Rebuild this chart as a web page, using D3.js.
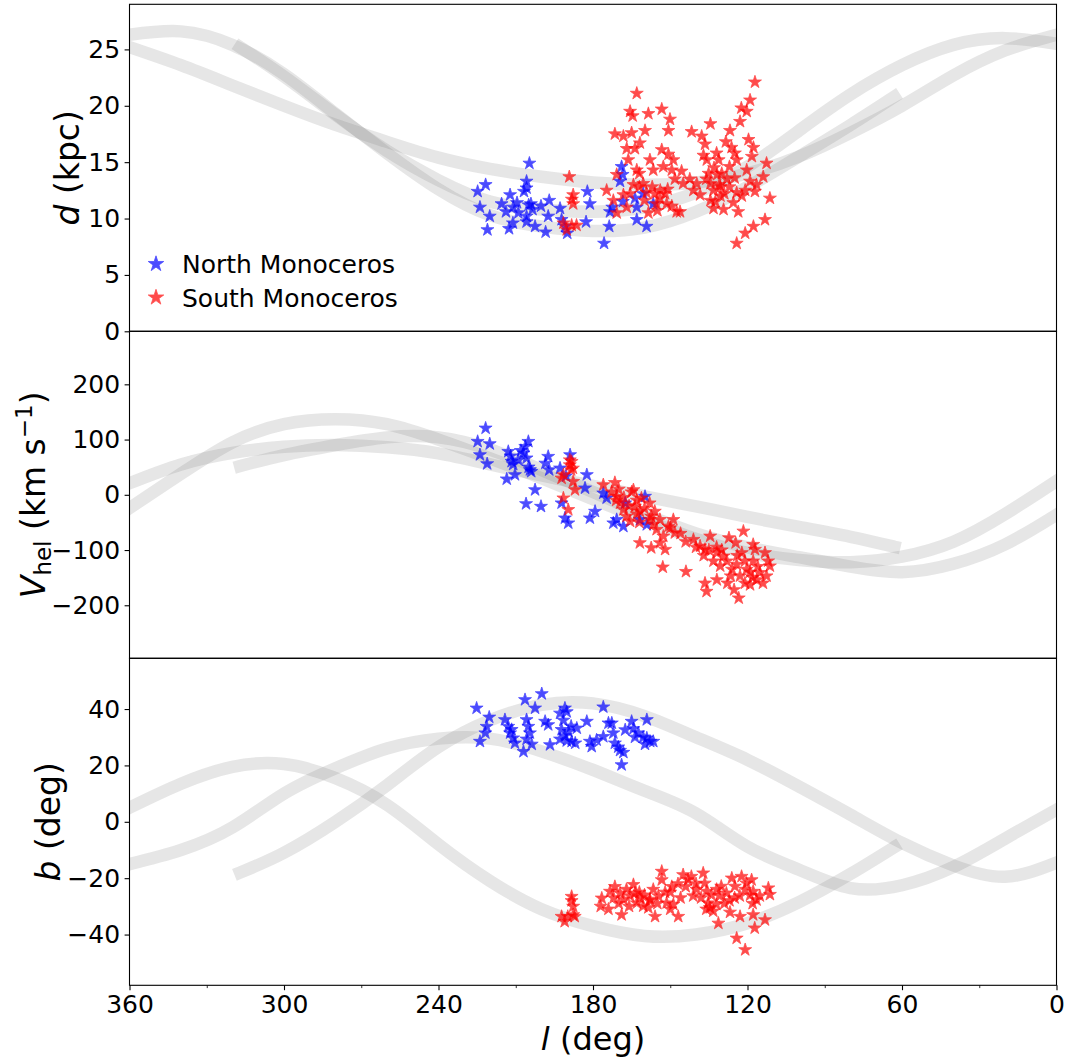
<!DOCTYPE html>
<html>
<head>
<meta charset="utf-8">
<script src="https://cdn.jsdelivr.net/npm/d3@7"></script>
<style>
  html, body { margin: 0; padding: 0; background: #fff; }
  svg { display: block; font-family: "DejaVu Sans", sans-serif; }
</style>
</head>
<body>
<svg id="chart" width="1067" height="1059"></svg>
<script>
// ---- Orbit track, split where l wraps from 0 back to 360 ----
const orbitL1 = [317, 300, 280, 260, 240, 220, 200, 180, 160, 140, 120, 100, 80, 60, 40, 20, 0];
const orbitD1 = [25.2, 22.6, 19.2, 16.0, 13.4, 11.5, 10.8, 10.6, 11.0, 12.3, 14.6, 17.8, 21.0, 23.6, 25.4, 26.0, 25.5];
const orbitV1 = [52, 72, 90, 104, 104, 82, 45, 5, -35, -70, -95, -113, -130, -140, -125, -90, -36];
const orbitB1 = [-18, -11, 0, 13, 26.5, 36, 41.5, 42, 37.5, 30, 22, 12.5, 2.5, -7.5, -15.5, -19.5, -14.5];

const orbitL2 = [360, 340, 320, 300, 280, 260, 240, 220, 200, 180, 160, 140, 120, 100, 80, 60, 40, 20, 0];
const orbitD2 = [25.2, 23.6, 21.8, 20.0, 18.3, 16.8, 15.4, 14.4, 13.7, 13.2, 13.0, 13.2, 14.0, 15.5, 17.6, 20.0, 22.7, 24.9, 26.3];
const orbitV2 = [-24, 38, 95, 128, 137, 128, 100, 66, 30, -8, -45, -80, -105, -118, -122, -112, -85, -35, 25];
const orbitB2 = [-15, -10, -2, 10, 19, 26, 29.5, 29.5, 25, 18.4, 11, 3, -8.8, -17, -23.5, -22.5, -16, -6, 4.3];

const orbitL3 = [360, 340, 320, 300, 280, 260, 240, 220, 200, 180, 160, 140, 120, 100, 80, 63];
const orbitD3 = [26.3, 26.6, 25.4, 22.8, 19.3, 15.8, 12.6, 10.3, 9.3, 8.9, 9.2, 10.6, 12.8, 15.5, 18.3, 20.8];
const orbitV3 = [21, 55, 76, 87, 90, 86, 75, 55, 35, 16, -3, -21, -40, -58, -76, -94];
const orbitB3 = [5, 13.5, 19.5, 20.5, 15.5, 6, -8, -21, -31, -37, -40.5, -40, -36, -28.5, -18.5, -9];

// ---- Stars: [l, value] pairs ----
const northD = [[224.8,12.4],[221.7,13.0],[223.9,11.0],[220.1,10.2],[221,9.0],[213.8,10.6],[212.6,9.1],[211.1,9.6],[212.2,12.1],[209.5,11.4],[211,11.0],[206.8,12.4],[205.8,13.3],[205.8,12.7],[204.7,14.9],[205,11.2],[205.8,10.2],[205.8,9.7],[204.1,11.3],[202.5,9.3],[200.2,11.1],[197,11.6],[197.4,10.2],[198.4,8.8],[192.8,10.9],[192.2,9.9],[190,8.7],[190.8,9.3],[182.2,12.4],[182.7,9.7],[181.2,11.3],[175.7,7.8],[173.7,9.3],[173.4,10.6],[169.5,13.3],[168.9,14.6],[168.5,13.9],[172.5,11.0],[163,9.9],[160.5,12.2],[159.2,9.3],[163.7,11.8],[156.6,11.3],[168.4,11.5],[163,11.0],[209,10.5],[203.5,10.8],[215.5,11.3]];
const southD = [[189.2,13.7],[187.7,12.1],[188.2,11.7],[187.7,11.3],[191.5,9.6],[188.3,9.4],[186.4,9.4],[190.2,9.0],[174.7,12.5],[172.1,11.6],[170.8,10.5],[168.2,12.1],[166.9,11.0],[165.6,12.2],[164.3,13.0],[170.8,13.9],[171.5,17.5],[168.2,17.3],[166.9,16.2],[166.3,15.2],[165,17.6],[165.6,19.5],[164.6,19.1],[163,21.1],[161.8,16.7],[163.7,16.2],[163,14.3],[162,14.0],[160.5,13.1],[159.2,12.3],[159.8,17.8],[158.5,19.3],[157.9,15.2],[156.6,14.3],[156,12.2],[155.3,11.3],[153.9,12.5],[153.3,16.1],[153.3,19.7],[152.7,14.6],[152,12.2],[150.7,17.8],[150.1,18.8],[150.7,15.7],[149.4,14.3],[148.8,15.2],[148.2,13.5],[151.4,11.3],[149.4,11.1],[147.5,10.6],[146.2,10.6],[145.6,14.2],[145,13.1],[142.4,13.5],[141.7,17.7],[141,12.5],[139.7,13.1],[138.4,12.1],[137.8,17.3],[136.5,16.6],[137.1,15.6],[134.4,18.4],[135.8,15.2],[135.1,14.0],[134.4,13.1],[133.2,12.5],[134.4,11.6],[132.5,11.5],[131.8,13.9],[131.2,15.2],[130.5,12.8],[133.2,10.9],[129.3,10.8],[128.4,16.8],[126.8,17.8],[126.2,16.3],[124.9,15.8],[124.2,15.2],[124.2,12.3],[125.5,11.4],[123.6,10.6],[122.4,19.8],[122.9,18.6],[120.3,19.5],[119,20.5],[119.6,17.0],[117.7,16.3],[118.3,15.5],[120.3,14.3],[119,13.3],[120.9,12.5],[122.2,12.0],[117.1,12.4],[117.1,22.1],[116.5,13.0],[113.9,13.7],[112.6,14.9],[111.3,11.8],[113.2,9.9],[117.7,9.3],[120.9,8.7],[124.2,7.8],[130.5,12.0],[155,10.7],[158.5,10.5],[133,14.5],[130,14.0],[128,13.5],[127,12.8],[129,12.2],[131,13.0],[136,13.5],[127,14.6],[132,15.8],[125,13.6],[157,12.8],[154,11.8],[151,12.6],[160,11.6],[162,12.8]];

const northV = [[221.7,120.6],[224.8,96.4],[220.1,92.2],[223.9,72.3],[221.1,56],[212.9,78.3],[211.6,60.2],[210.3,36.2],[213.5,28.4],[207,75.4],[206.3,87.3],[205.1,96.4],[205.8,66.4],[204.5,45.2],[202.5,9],[206,-16.3],[200.2,-21.1],[197.4,69.3],[198.5,57],[192.8,48.2],[188.9,72.3],[190.5,34],[192.2,-15],[190.9,-42.2],[189.6,-51.2],[182.4,36.2],[183.1,12.1],[179.2,-30.1],[181.2,-42.2],[176,3],[174.7,-6],[172.1,-51.2],[168.2,-57.3],[170.8,-45],[167.5,-15],[159.8,-3],[159.1,-54.2],[161.8,-45],[211,55],[209,63],[205,50],[204,42],[208,80],[212,70],[197,45]];
const southV = [[188.3,60.2],[189,54],[187.8,48],[191.5,36],[192.2,30],[187.7,24],[187,9],[191.5,-6],[189.6,-27],[188.5,45],[189,63],[176,18],[171.5,22],[172.8,5],[170.8,-3],[169.5,-15],[168.2,-27],[164.3,9],[167,-39],[165.6,-48],[163.7,-21],[161.8,-30],[161.2,-6],[158,-15],[157.4,-39],[156.6,-54],[155.3,-63],[154,-45],[152.7,-75],[150.7,-57],[148.8,-45],[148.2,-69],[152,-99],[154,-87],[157.4,-96],[161.8,-87],[152.9,-131],[143.9,-139],[141,-81],[138.4,-93],[136.5,-99],[134.5,-75],[131.9,-105],[133.2,-120],[129.3,-111],[130.6,-129],[136.5,-160],[135.9,-175],[131.9,-154],[127.2,-78],[124.6,-87],[121.6,-66],[122.2,-105],[124.2,-126],[120.3,-135],[122.9,-147],[121,-160],[123.4,-187],[117.8,-90],[117.1,-99],[113.2,-105],[117.8,-120],[115.2,-141],[111.3,-129],[112.6,-147],[116.5,-154],[119,-163],[126.5,-147],[127.8,-160],[125.2,-172],[166,-20],[163,-35],[160,-25],[158,-45],[156,-30],[162,-50],[150,-60],[146,-70],[144,-85],[140,-95],[137,-110],[135,-100],[132,-95],[130,-100],[128,-120],[126,-135],[124,-110],[121,-120],[119,-140],[118,-150],[116,-130],[114,-160],[112,-120],[171,-10],[168,-5],[165,5],[163,-10],[170,10]];

const northB = [[225.2,40.3],[220.3,37.1],[221.3,33.8],[221.8,31.5],[223.9,28.5],[214.2,36.2],[212.9,33.8],[211.6,32.7],[212.2,31.5],[211,29.7],[210.3,27.9],[207,24.9],[206.4,43.3],[202.5,40.3],[199.9,45.4],[205.8,36.2],[205.1,33.8],[204.5,31.5],[205.8,29.3],[203.8,27.5],[198.6,35.6],[197.4,34.4],[196.7,27.3],[192.8,38.5],[190.9,40.3],[190.2,39],[191.5,36],[192.2,32.7],[190.9,30.5],[192.8,29.3],[190.2,28.7],[188.3,28.5],[186.3,33.2],[182.4,35.6],[181.2,28.5],[180.5,26.7],[178.6,29],[176,40.7],[176,30.2],[174,35],[172.7,35],[172.1,31.5],[171.5,27.9],[170.2,26.5],[169.5,25.3],[168.2,24.6],[168.9,20.2],[167.5,32.6],[165,35.6],[164.3,33],[162.4,31.5],[163.7,30],[160.5,30],[159.1,36.2],[159.1,29.7],[157.8,28.5],[156.6,28.5],[159.8,27.5],[186.9,27.9],[188.5,33.9],[189.5,32]];
const southB = [[188.3,-26.5],[188.3,-28],[187.7,-30],[187.7,-33],[192.2,-33.6],[191,-35.4],[189.8,-33.6],[187.1,-33.6],[176.6,-27.1],[173.4,-24.7],[171.5,-23],[169.5,-25.3],[168.9,-33],[168.2,-27.5],[167,-24],[165.6,-26.3],[164.3,-22.3],[163.7,-25.3],[163,-28.8],[161.8,-27],[160.5,-29.9],[158.5,-30.5],[155.9,-33.6],[157.9,-27.5],[156.6,-24],[154.6,-26.3],[153.3,-17.6],[153.3,-20.6],[152,-25],[151.4,-28.8],[149.4,-23],[148.8,-29.3],[146.9,-33.6],[145,-18.8],[143.1,-20.6],[141.8,-19.4],[141.1,-26.3],[139.8,-24],[137.2,-18.2],[136.6,-21.8],[135.9,-24.7],[135.3,-28.8],[134.6,-30.5],[133.3,-31.7],[132.1,-29.3],[130.8,-26.3],[131.3,-36],[130.2,-22.9],[128.2,-25.3],[126.1,-20],[124.9,-22.9],[123,-26.3],[122.3,-19.4],[120.4,-21.8],[118.4,-20.6],[117.8,-24.7],[116.5,-27.7],[115.2,-26.3],[117.8,-33],[117.2,-37.7],[113.2,-34.8],[111.9,-23.5],[111.3,-25.8],[124.2,-41.3],[120.9,-45.4],[122.9,-33.6],[126.8,-32.1],[172,-27],[170,-29],[166,-30],[162,-25],[160,-26],[158,-28],[150,-25],[146,-27],[144,-23],[140,-22],[138,-27],[136,-31],[134,-26],[132,-24],[129,-29],[127,-28],[125,-27],[121,-24],[119,-26],[118,-29],[150,-31],[147,-22],[155,-29],[177,-30],[174,-31]];

// ---- Axis ticks and labels ----
const lTicks = [360, 300, 240, 180, 120, 60, 0];
const lMinorTicks = [330, 270, 210, 150, 90, 30];
const dTicks = [0, 5, 10, 15, 20, 25];
const vTicks = [-200, -100, 0, 100, 200];
const bTicks = [-40, -20, 0, 20, 40];
const seriesNames = ["North Monoceros", "South Monoceros"];
const seriesColors = ["#0000ff", "#ff0000"];

// ---- Layout ----
const svg = d3.select("#chart");
const left = 129.5, right = 1056.5;
const panelTops = [4.3, 331.3, 658.3];
const panelH = 327;
const minus = s => String(s).replace("-", "\u2212");

const x = d3.scaleLinear().domain([360, 0]).range([left, right]);

const panels = [
  { domain: [0, 29], ticks: dTicks, orbit: [orbitD1, orbitD2, orbitD3], north: northD, south: southD },
  { domain: [-296, 296], ticks: vTicks, orbit: [orbitV1, orbitV2, orbitV3], north: northV, south: southV },
  { domain: [-58, 58], ticks: bTicks, orbit: [orbitB1, orbitB2, orbitB3], north: northB, south: southB }
];
const orbitLs = [orbitL1, orbitL2, orbitL3];

const star = d3.symbol().type(d3.symbolStar).size(52);

panels.forEach((p, i) => {
  const top = panelTops[i], bottom = top + panelH;
  const y = d3.scaleLinear().domain(p.domain).range([bottom, top]);
  const g = svg.append("g");

  const clipId = "clip" + i;
  svg.append("clipPath").attr("id", clipId)
    .append("rect").attr("x", left).attr("y", top)
    .attr("width", right - left).attr("height", panelH);

  const plot = g.append("g").attr("clip-path", `url(#${clipId})`);

  // orbit track segments
  const line = d3.line()
    .x(d => x(d[0])).y(d => y(d[1]))
    .curve(d3.curveNatural);
  orbitLs.forEach((ls, k) => {
    const pts = ls.map((l, j) => [l, p.orbit[k][j]]);
    plot.append("path")
      .attr("d", line(pts))
      .attr("fill", "none")
      .attr("stroke", "#808080")
      .attr("stroke-opacity", 0.2)
      .attr("stroke-width", 12.5)
      .attr("stroke-linecap", "square");
  });

  // stars
  [[p.north, seriesColors[0]], [p.south, seriesColors[1]]].forEach(([pts, col]) => {
    plot.selectAll(null).data(pts).enter().append("path")
      .attr("d", star)
      .attr("transform", d => `translate(${x(d[0])},${y(d[1])})`)
      .attr("fill", col)
      .attr("stroke", col)
      .attr("stroke-width", 0.8)
      .attr("opacity", 0.7);
  });

  // y axis
  const yAxis = d3.axisLeft(y).tickValues(p.ticks).tickSize(4.9).tickPadding(4.5)
    .tickFormat(minus);
  const ya = g.append("g").attr("transform", `translate(${left},0)`).call(yAxis);
  ya.select(".domain").remove();
  ya.selectAll("line").attr("stroke", "#000").attr("stroke-width", 1.1);
  ya.selectAll("text").attr("font-size", 25).attr("font-family", "DejaVu Sans").attr("fill", "#000");

  // frame
  g.append("rect").attr("x", left).attr("y", top)
    .attr("width", right - left).attr("height", panelH)
    .attr("fill", "none").attr("stroke", "#000").attr("stroke-width", 1.1);

  if (i === 2) {
    const xAxis = d3.axisBottom(x).tickValues(lTicks).tickSize(4.9).tickPadding(5)
      .tickFormat(d => d);
    const xa = g.append("g").attr("transform", `translate(0,${bottom})`).call(xAxis);
    xa.select(".domain").remove();
    xa.selectAll("line").attr("stroke", "#000").attr("stroke-width", 1.1);
    xa.selectAll("text").attr("font-size", 25).attr("font-family", "DejaVu Sans").attr("fill", "#000");
    const xm = d3.axisBottom(x).tickValues(lMinorTicks).tickSize(2.8).tickFormat("");
    const xma = g.append("g").attr("transform", `translate(0,${bottom})`).call(xm);
    xma.select(".domain").remove();
    xma.selectAll("line").attr("stroke", "#000").attr("stroke-width", 0.8);
  }
});

// ---- Axis titles ----
const fs = 33;
svg.append("text")
  .attr("transform", `translate(79,${panelTops[0] + panelH / 2}) rotate(-90)`)
  .attr("text-anchor", "middle").attr("font-size", fs)
  .html('<tspan font-style="italic">d</tspan> (kpc)');

svg.append("text")
  .attr("transform", `translate(45,${panelTops[1] + panelH / 2}) rotate(-90)`)
  .attr("text-anchor", "middle").attr("font-size", fs)
  .html('<tspan font-style="italic">V</tspan><tspan font-size="23" dy="6">hel</tspan><tspan dy="-6"> (km s</tspan><tspan font-size="23" dy="-13">\u22121</tspan><tspan dy="13">)</tspan>');

svg.append("text")
  .attr("transform", `translate(60,${panelTops[2] + panelH / 2}) rotate(-90)`)
  .attr("text-anchor", "middle").attr("font-size", fs)
  .html('<tspan font-style="italic">b</tspan> (deg)');

svg.append("text")
  .attr("x", (left + right) / 2).attr("y", 1050)
  .attr("text-anchor", "middle").attr("font-size", 32)
  .html('<tspan font-style="italic">l</tspan> (deg)');

// ---- Legend ----
const legend = svg.append("g");
seriesNames.forEach((name, k) => {
  const ly = 264 + k * 33.5;
  legend.append("path").attr("d", d3.symbol().type(d3.symbolStar).size(75))
    .attr("transform", `translate(156,${ly})`)
    .attr("fill", seriesColors[k]).attr("stroke", seriesColors[k]).attr("stroke-width", 0.8)
    .attr("opacity", 0.7);
  legend.append("text").attr("x", 182).attr("y", ly).attr("dy", "0.36em")
    .attr("font-size", 25).text(name);
});
</script>
</body>
</html>
